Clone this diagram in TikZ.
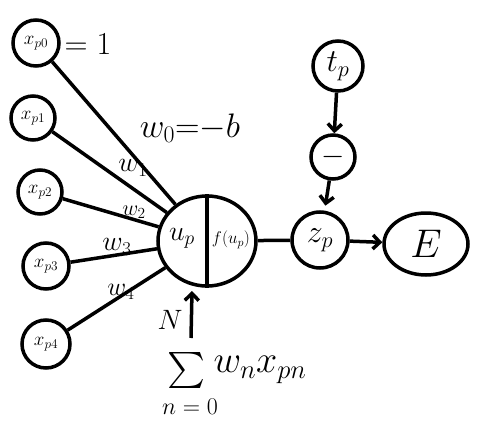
\RequirePackage{fix-cm}
\documentclass[tikz,border=0pt]{standalone}
\usepackage{graphicx}
\usetikzlibrary{arrows.meta,shapes.geometric}
\tikzset{
  ink/.style={line width=3.5pt},
  cnode/.style={circle,draw,line width=3.5pt,inner sep=0pt},
  enode/.style={ellipse,draw,line width=3.5pt,inner sep=0pt},
  fs/.style={font=\fontsize{#1}{#1}\selectfont},
  barb/.style={-{Straight Barb[length=7pt,width=14pt]}},
}
\begin{document}
\begin{tikzpicture}[x=1pt,y=-1pt]
\useasboundingbox (0,0) rectangle (482,428);
% inputs
\node[cnode,minimum size=46pt,fs=19] (x0) at (36,43) {$x_{p0}$};
\node[cnode,minimum size=44pt,fs=19] (x1) at (33,118) {$x_{p1}$};
\node[cnode,minimum size=44pt,fs=19] (x2) at (40,192) {$x_{p2}$};
\node[cnode,minimum size=46pt,fs=19] (x3) at (46,266) {$x_{p3}$};
\node[cnode,minimum size=48pt,fs=19] (x4) at (46,344) {$x_{p4}$};
\node[fs=32] (eq1) at (88,44) {$=1$};
% main neuron
\node[enode,minimum width=98pt,minimum height=90pt] (main) at (207,241) {};
\draw[ink] (main.north) -- (main.south);
\node[fs=28] (up) at (182,238) {$u_p$};
\node[fs=17] (fup) at (231,240) {$f(u_p)$};
% weighted connections
\draw[ink] (x0) -- (main);
\draw[ink] (x1) -- (main);
\draw[ink] (x2) -- (main);
\draw[ink] (x3) -- (main);
\draw[ink] (x4) -- (main);
\node[fs=34] (w0) at (190,128) {$w_0{=}{-}b$};
\node[fs=28] (w1) at (133,168) {$w_1$};
\node[fs=22] (w2) at (134,212) {$w_2$};
\node[fs=28] (w3) at (117,247) {$w_3$};
\node[fs=26] (w4) at (121,292) {$w_4$};
% output part
\node[cnode,minimum size=56pt,fs=32] (zp) at (320,240) {$z_p$};
\node[enode,minimum width=84pt,minimum height=62pt,fs=40] (E) at (426,244) {$E$};
\node[cnode,minimum size=50pt,fs=32] (tp) at (338,66) {$t_p$};
\node[cnode,minimum size=44pt,fs=30] (minus) at (333,157) {$-$};
\draw[ink] (main) -- (zp);
\draw[ink,barb] (zp) -- (E);
\draw[ink,barb] (tp) -- (minus);
\draw[ink,barb,shorten >=5pt] (minus) -- (zp);
% sum
\node[inner sep=0pt] (sig) at (186,370) {\scalebox{3.6}{$\sum$}};
\node[fs=28,inner sep=1pt] (N) at (170,320) {$N$};
\node[fs=24] (n0) at (190,407) {$n=0$};
\node[fs=38] (wx) at (260,370) {$w_n x_{pn}$};
\coordinate (s1) at (191,338);
\coordinate (s2) at (192,291);
\draw[ink,barb] (s1) -- (s2);
\end{tikzpicture}
\end{document}
